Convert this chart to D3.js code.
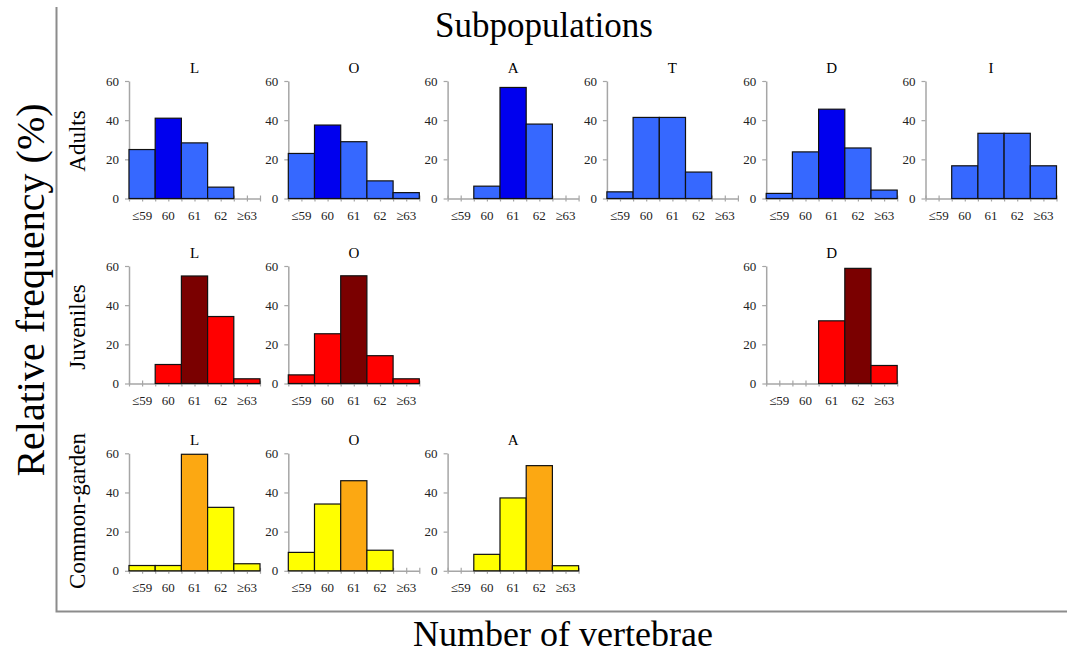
<!DOCTYPE html>
<html>
<head>
<meta charset="utf-8">
<script src="https://cdn.jsdelivr.net/npm/d3@7"></script>
<style>
  body { margin: 0; background: #fff; }
  text { font-family: "Liberation Serif", "Times New Roman", serif; }
</style>
</head>
<body>
<script>
// vertebrae count bins
var bins = ["≤59", "60", "61", "62", "≥63"]
var rowNames = ["Adults", "Juveniles", "Common-garden"]

// relative frequency (%) per bin
var adultsL = [25, 41, 28.4, 5.8, 0]
var adultsO = [23, 37.5, 29, 9, 3]
var adultsA = [0, 6.3, 56.7, 38, 0]
var adultsT = [3.4, 41.4, 41.4, 13.5, 0]
var adultsD = [2.6, 23.8, 45.6, 25.8, 4.3]
var adultsI = [0, 16.7, 33.3, 33.3, 16.7]
var juvL = [0, 9.7, 54.9, 34.2, 2.4]
var juvO = [4.4, 25.4, 55, 14.2, 2.4]
var juvD = [0, 0, 32, 58.8, 9.2]
var cgL = [2.7, 2.7, 59.5, 32.4, 3.6]
var cgO = [9.4, 34.1, 46, 10.5, 0]
var cgA = [0, 8.4, 37.2, 53.7, 2.6]

// which bin is the modal (dark) one, -1 = none
var panels = [
    {row: 0, col: 0, name: "L", values: adultsL, mode: 1},
    {row: 0, col: 1, name: "O", values: adultsO, mode: 1},
    {row: 0, col: 2, name: "A", values: adultsA, mode: 2},
    {row: 0, col: 3, name: "T", values: adultsT, mode: -1},
    {row: 0, col: 4, name: "D", values: adultsD, mode: 2},
    {row: 0, col: 5, name: "I", values: adultsI, mode: -1},
    {row: 1, col: 0, name: "L", values: juvL, mode: 2},
    {row: 1, col: 1, name: "O", values: juvO, mode: 2},
    {row: 1, col: 4, name: "D", values: juvD, mode: 3},
    {row: 2, col: 0, name: "L", values: cgL, mode: 2},
    {row: 2, col: 1, name: "O", values: cgO, mode: 2},
    {row: 2, col: 2, name: "A", values: cgA, mode: 3}
]

var rowColors = [
    {base: "#3668ff", dark: "#0000ee"},
    {base: "#ff0000", dark: "#7a0000"},
    {base: "#ffff00", dark: "#fca812"}
]

var width = 1067, height = 653
var panelW = 131, panelH = 117.5
var colX = c => 129 + c * 159.3
var rowY = r => [81, 266, 453.3][r]
var rowLabelY = [141, 327, 511]
var serif = "Liberation Serif, Times New Roman, serif"

var svg = d3.select("body").append("svg")
    .attr("width", width)
    .attr("height", height)

// outer frame (left + bottom)
svg.append("path")
    .attr("d", "M56.5,7V611.5H1067")
    .attr("fill", "none")
    .attr("stroke", "#8c8c8c")
    .attr("stroke-width", 2)

svg.append("text")
    .attr("x", 544).attr("y", 37)
    .attr("text-anchor", "middle")
    .style("font-size", "35px")
    .text("Subpopulations")

svg.append("text")
    .attr("x", 563).attr("y", 646)
    .attr("text-anchor", "middle")
    .style("font-size", "36px")
    .text("Number of vertebrae")

svg.append("text")
    .attr("transform", "translate(44,290) rotate(-90)")
    .attr("text-anchor", "middle")
    .style("font-size", "40px")
    .text("Relative frequency (%)")

svg.selectAll(".row-label")
    .data(rowNames)
    .enter().append("text")
    .attr("class", "row-label")
    .attr("transform", (d, i) => `translate(85,${rowLabelY[i]}) rotate(-90)`)
    .attr("text-anchor", "middle")
    .style("font-size", "23px")
    .text(d => d)

var x = d3.scaleBand().domain(bins).range([0, panelW])
var xTick = d3.scaleLinear().domain([0, bins.length]).range([0, panelW])
var y = d3.scaleLinear().domain([0, 60]).range([panelH, 0])

panels.forEach(p => {
    var g = svg.append("g")
        .attr("transform", `translate(${colX(p.col)},${rowY(p.row)})`)

    g.append("text")
        .attr("x", panelW / 2).attr("y", -8)
        .attr("text-anchor", "middle")
        .style("font-size", "15px")
        .text(p.name)

    // y axis
    var ya = g.append("g")
        .call(d3.axisLeft(y).tickValues([0, 20, 40, 60]).tickSizeInner(4).tickSizeOuter(0).tickPadding(6))
        .attr("font-family", serif)
        .attr("font-size", 13)
    ya.select(".domain").attr("stroke", "#a6a6a6").attr("stroke-width", 1.5)
    ya.selectAll(".tick line").attr("stroke", "#a6a6a6").attr("stroke-width", 1.2)
    ya.selectAll(".tick text").attr("fill", "#222")

    // x axis, crossing ticks every half bin
    var xa = g.append("g")
        .attr("transform", `translate(0,${panelH})`)
        .call(d3.axisBottom(xTick).tickValues(d3.range(0, bins.length + 0.01, 0.5)).tickFormat("").tickSizeInner(3).tickSizeOuter(0))
    xa.select(".domain").attr("stroke", "#a6a6a6").attr("stroke-width", 1.5)
    xa.selectAll(".tick line").attr("y1", -3).attr("stroke", "#a6a6a6").attr("stroke-width", 1.2)

    var xl = g.append("g")
        .attr("transform", `translate(0,${panelH})`)
        .call(d3.axisBottom(x).tickSize(0).tickPadding(12))
        .attr("font-family", serif)
        .attr("font-size", 13)
    xl.select(".domain").remove()
    xl.selectAll(".tick text").attr("fill", "#222")

    var col = rowColors[p.row]
    g.selectAll(".bar")
        .data(p.values.map((v, i) => ({bin: bins[i], v: v, i: i})).filter(d => d.v > 0))
        .enter().append("rect")
        .attr("class", "bar")
        .attr("x", d => x(d.bin))
        .attr("width", x.bandwidth())
        .attr("y", d => y(d.v))
        .attr("height", d => y(0) - y(d.v))
        .attr("fill", d => d.i === p.mode ? col.dark : col.base)
        .attr("stroke", "#111")
        .attr("stroke-width", 1.2)
})
</script>
</body>
</html>
